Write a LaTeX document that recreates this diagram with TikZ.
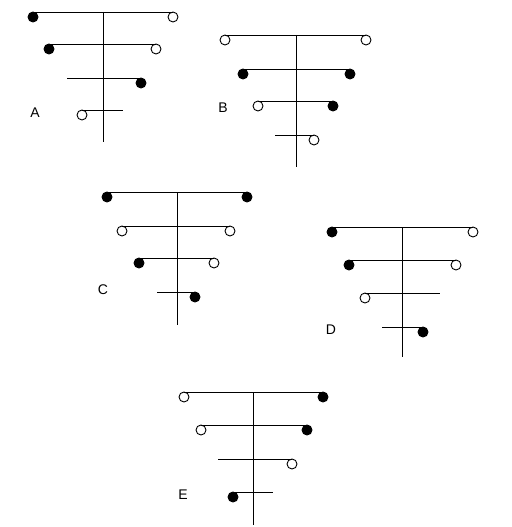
\documentclass[tikz,border=0pt]{standalone}
\usepackage{fontspec}
\setsansfont{Liberation Sans}
\tikzset{
  stem/.style={line width=1pt},
  bar/.style={line width=0.9pt},
  fdot/.style={circle,draw,fill=black,line width=0.9pt,minimum size=10pt,inner sep=0pt,outer sep=0pt},
  odot/.style={circle,draw,fill=white,line width=0.9pt,minimum size=10pt,inner sep=0pt,outer sep=0pt},
  lab/.style={font=\sffamily\fontsize{14}{16}\selectfont,inner sep=0pt}
}
\newcommand\Fd[3]{\node[fdot] (#1) at (#2,#3+5) {};}
\newcommand\Od[3]{\node[odot] (#1) at (#2,#3+5) {};}
\newcommand\Pt[3]{\coordinate (#1) at (#2,#3);}
\begin{document}
\begin{tikzpicture}[x=1pt,y=-1pt]
\useasboundingbox (0,0) rectangle (511,527);
% ---------- A ----------
\coordinate (Atop) at (103,12); \coordinate (Abot) at (103,142);
\draw[stem] (Atop) -- (Abot);
\Fd{A1l}{33}{12} \Od{A1r}{173}{12}
\draw[bar] (A1l.north) -- (A1r.north);
\Fd{A2l}{49}{44} \Od{A2r}{156}{44}
\draw[bar] (A2l.north) -- (A2r.north);
\Pt{A3l}{67}{78} \Fd{A3r}{141}{78}
\draw[bar] (A3l) -- (A3r.north);
\Od{A4l}{82}{110} \Pt{A4r}{123}{110}
\draw[bar] (A4l.north) -- (A4r);
\node[lab] (Alab) at (35,113) {A};
% ---------- B ----------
\coordinate (Btop) at (296,35); \coordinate (Bbot) at (296,167);
\draw[stem] (Btop) -- (Bbot);
\Od{B1l}{225}{35} \Od{B1r}{366}{35}
\draw[bar] (B1l.north) -- (B1r.north);
\Fd{B2l}{243}{69} \Fd{B2r}{350}{69}
\draw[bar] (B2l.north) -- (B2r.north);
\Od{B3l}{258}{101} \Fd{B3r}{333}{101}
\draw[bar] (B3l.north) -- (B3r.north);
\Pt{B4l}{275}{135} \Od{B4r}{314}{135}
\draw[bar] (B4l) -- (B4r.north);
\node[lab] (Blab) at (223,108) {B};
% ---------- C ----------
\coordinate (Ctop) at (177,192); \coordinate (Cbot) at (177,325);
\draw[stem] (Ctop) -- (Cbot);
\Fd{C1l}{107}{192} \Fd{C1r}{247}{192}
\draw[bar] (C1l.north) -- (C1r.north);
\Od{C2l}{122}{226} \Od{C2r}{230}{226}
\draw[bar] (C2l.north) -- (C2r.north);
\Fd{C3l}{139}{258} \Od{C3r}{214}{258}
\draw[bar] (C3l.north) -- (C3r.north);
\Pt{C4l}{157}{292} \Fd{C4r}{195}{292}
\draw[bar] (C4l) -- (C4r.north);
\node[lab] (Clab) at (103,290) {C};
% ---------- D ----------
\coordinate (Dtop) at (402,227); \coordinate (Dbot) at (402,357);
\draw[stem] (Dtop) -- (Dbot);
\Fd{D1l}{332}{227} \Od{D1r}{473}{227}
\draw[bar] (D1l.north) -- (D1r.north);
\Fd{D2l}{349}{260} \Od{D2r}{456}{260}
\draw[bar] (D2l.north) -- (D2r.north);
\Od{D3l}{365}{293} \Pt{D3r}{440}{293}
\draw[bar] (D3l.north) -- (D3r);
\Pt{D4l}{382}{327} \Fd{D4r}{423}{327}
\draw[bar] (D4l) -- (D4r.north);
\node[lab] (Dlab) at (331,330) {D};
% ---------- E ----------
\coordinate (Etop) at (253,392); \coordinate (Ebot) at (253,525);
\draw[stem] (Etop) -- (Ebot);
\Od{E1l}{184}{392} \Fd{E1r}{323}{392}
\draw[bar] (E1l.north) -- (E1r.north);
\Od{E2l}{201}{425} \Fd{E2r}{307}{425}
\draw[bar] (E2l.north) -- (E2r.north);
\Pt{E3l}{218}{459} \Od{E3r}{292}{459}
\draw[bar] (E3l) -- (E3r.north);
\Fd{E4l}{233}{492} \Pt{E4r}{273}{492}
\draw[bar] (E4l.north) -- (E4r);
\node[lab] (Elab) at (183,495) {E};
\end{tikzpicture}
\end{document}
